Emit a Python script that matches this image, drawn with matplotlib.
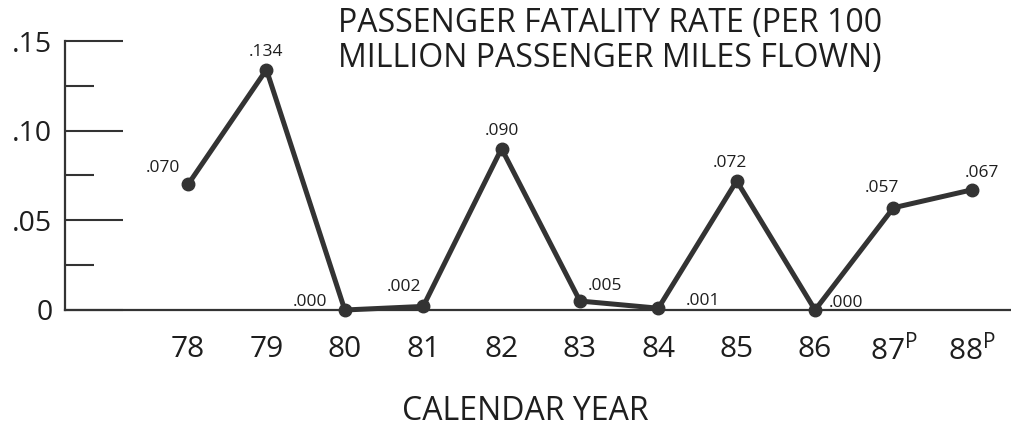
import matplotlib
matplotlib.use("Agg")
import matplotlib.pyplot as plt
from matplotlib.ticker import MultipleLocator

plt.rcParams['font.family'] = ['Open Sans', 'DejaVu Sans']
plt.rcParams['mathtext.fontset'] = 'custom'
plt.rcParams['mathtext.rm'] = 'Open Sans'

years = ["78", "79", "80", "81", "82", "83", "84", "85", "86",
         "87$^{\\mathrm{P}}$", "88$^{\\mathrm{P}}$"]
rates = [0.070, 0.134, 0.000, 0.002, 0.090, 0.005, 0.001, 0.072, 0.000, 0.057, 0.067]
rate_labels = [".070", ".134", ".000", ".002", ".090", ".005", ".001", ".072", ".000", ".057", ".067"]
# label offsets in points (dx, dy)
label_offsets = [(-18, 12), (0, 13), (-25, 6), (-14, 14), (0, 13), (18, 11),
                 (32, 5), (-5, 13), (22, 5), (-8, 14), (7, 12)]

ink = "#333333"
txt = "#1e1e1e"

fig = plt.figure(figsize=(10.11, 4.30), dpi=100)
ax = fig.add_axes([65 / 1011, 120 / 430, 946 / 1011, 269 / 430])

x = list(range(len(rates)))
ax.plot(x, rates, color=ink, lw=3.6, marker="o", markersize=9,
        solid_joinstyle="round", clip_on=False, zorder=3)

for xi, v, lab, off in zip(x, rates, rate_labels, label_offsets):
    ax.annotate(lab, (xi, v), xytext=off, textcoords="offset points",
                ha="center", va="center", fontsize=12.5, color=txt)

ax.set_xlim(-1.57, 10.5)
ax.set_ylim(0, 0.15)

for side in ["top", "right"]:
    ax.spines[side].set_visible(False)
ax.spines["left"].set_linewidth(1.6)
ax.spines["bottom"].set_linewidth(1.6)
ax.spines["left"].set_color(ink)
ax.spines["bottom"].set_color(ink)

ax.yaxis.set_major_locator(MultipleLocator(0.05))
ax.yaxis.set_minor_locator(MultipleLocator(0.025))
ax.set_yticks([0, 0.05, 0.10, 0.15])
ax.set_yticklabels(["0", ".05", ".10", ".15"])
ax.tick_params(axis="y", which="major", direction="in", length=42, width=1.5,
               color=ink, labelsize=20.5, pad=9, labelcolor=txt)
ax.tick_params(axis="y", which="minor", direction="in", length=21, width=1.5, color=ink)

ax.set_xticks(x)
ax.set_xticklabels(years)
ax.tick_params(axis="x", length=0, pad=18, labelsize=21.5, labelcolor=txt)

fig.text(338 / 1011, 1 - 7 / 430, "PASSENGER FATALITY RATE (PER 100\nMILLION PASSENGER MILES FLOWN)",
         ha="left", va="top", fontsize=23, color=txt, linespacing=1.1)
fig.text(525 / 1011, 1 - 412 / 430, "CALENDAR YEAR", ha="center", va="center",
         fontsize=23, color=txt)

fig.savefig("out.png", dpi=100)
